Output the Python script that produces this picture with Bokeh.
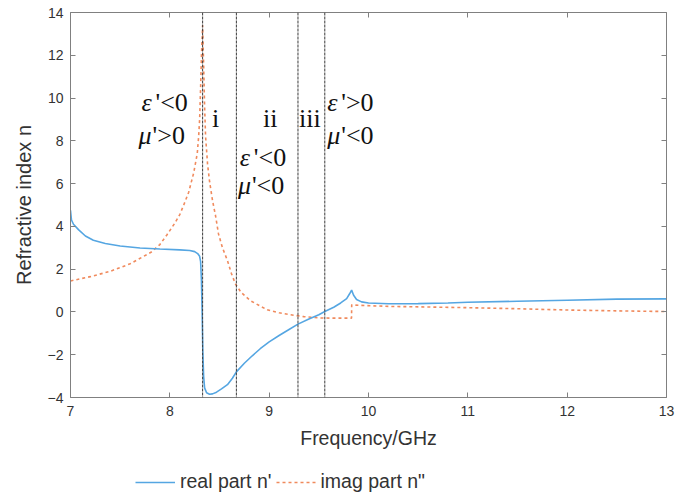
from bokeh.plotting import figure
from bokeh.layouts import column
from bokeh.models import ColumnDataSource, Span, LinearAxis, Legend, LegendItem, FixedTicker, Range1d
from bokeh.core.properties import value
from bokeh.embed import file_html
from bokeh.resources import INLINE

# ---- data ----
freq_real = [7.00, 7.01, 7.03, 7.08, 7.15, 7.23, 7.35, 7.50, 7.70, 7.90, 8.10, 8.20, 8.25, 8.28,
             8.30, 8.31, 8.318, 8.325, 8.332, 8.34, 8.35, 8.37, 8.40, 8.43, 8.47, 8.52, 8.58,
             8.63, 8.67, 8.75, 8.83, 8.91, 9.00, 9.10, 9.20, 9.29, 9.40, 9.50, 9.56, 9.65,
             9.72, 9.78, 9.81, 9.83, 9.85, 9.88, 9.93, 10.00, 10.20, 10.50, 10.80, 11.00,
             11.50, 12.00, 12.50, 13.00]
n_real = [4.75, 4.30, 4.10, 3.85, 3.55, 3.35, 3.20, 3.08, 2.99, 2.94, 2.90, 2.87, 2.82, 2.73,
          2.60, 2.35, 1.50, 0.00, -1.80, -3.00, -3.55, -3.78, -3.85, -3.83, -3.75, -3.60, -3.40,
          -3.10, -2.80, -2.40, -2.05, -1.72, -1.40, -1.10, -0.82, -0.57, -0.33, -0.13, 0.02, 0.22,
          0.42, 0.62, 0.85, 1.02, 0.78, 0.58, 0.47, 0.42, 0.38, 0.39, 0.42, 0.45,
          0.50, 0.55, 0.60, 0.61]

freq_imag = [7.00, 7.20, 7.40, 7.60, 7.81, 7.90, 7.97, 8.05, 8.10, 8.14, 8.19, 8.24, 8.276, 8.29,
             8.30, 8.31, 8.32, 8.33, 8.34, 8.35, 8.36, 8.38, 8.40, 8.43, 8.46, 8.49, 8.53,
             8.58, 8.62, 8.66, 8.72, 8.81, 8.90, 8.98, 9.10, 9.20, 9.35, 9.50, 9.65, 9.829,
             9.831, 9.90, 10.20, 10.60, 11.00, 11.50, 12.00, 12.50, 13.00]
n_imag = [1.45, 1.65, 1.90, 2.25, 2.79, 3.15, 3.60, 4.15, 4.55, 5.00, 5.60, 6.50, 7.40, 8.20,
          9.00, 10.50, 12.20, 13.40, 11.60, 9.60, 8.20, 6.90, 6.10, 5.20, 4.50, 3.65, 3.00,
          2.40, 1.80, 1.31, 0.90, 0.53, 0.30, 0.10, -0.04, -0.12, -0.22, -0.28, -0.29, -0.29,
          0.33, 0.31, 0.26, 0.23, 0.20, 0.15, 0.09, 0.05, 0.02]

boundaries = [8.33, 8.67, 9.29, 9.56]
x_ticks = [7, 8, 9, 10, 11, 12, 13]
y_ticks = [-4, -2, 0, 2, 4, 6, 8, 10, 12, 14]

region_labels = ["i", "ii", "iii"]
region_x = [8.46, 9.01, 9.41]
region_y = [9.04, 9.04, 9.04]

# condition labels: greek symbol + rest
cond_greek = ["ε", "μ", "ε", "μ", "ε", "μ"]
cond_rest = ["'<0", "'>0", "'<0", "'<0", "'>0", "'<0"]
cond_x = [7.715, 7.685, 8.705, 8.685, 9.585, 9.585]
cond_y = [9.785, 8.243, 7.215, 5.907, 9.785, 8.243]

series_names = ["real part n'", 'imag part n"']

# ---- main figure ----
p = figure(width=688, height=454, output_backend="svg", toolbar_location=None,
           x_range=Range1d(7, 13), y_range=Range1d(-4, 14),
           min_border_left=70, min_border_right=22, min_border_top=12, min_border_bottom=57)
p.grid.visible = False
p.outline_line_color = None
p.background_fill_color = "white"
p.border_fill_color = "white"

axis_color = "#808080"
text_color = "#333333"

for ax in [p.xaxis[0], p.yaxis[0]]:
    ax.axis_line_color = axis_color
    ax.major_tick_line_color = axis_color
    ax.major_tick_in = 5
    ax.major_tick_out = 0
    ax.minor_tick_line_color = None
    ax.major_label_text_font = "Liberation Sans"
    ax.major_label_text_font_size = "14px"
    ax.major_label_text_color = text_color
    ax.axis_label_text_font = "Liberation Sans"
    ax.axis_label_text_font_style = "normal"
    ax.axis_label_text_color = text_color

p.xaxis[0].ticker = FixedTicker(ticks=x_ticks)
p.yaxis[0].ticker = FixedTicker(ticks=y_ticks)
p.xaxis[0].axis_label = "Frequency/GHz"
p.xaxis[0].axis_label_text_font_size = "19.5px"
p.xaxis[0].major_label_standoff = 8
p.xaxis[0].axis_label_standoff = 8
p.yaxis[0].axis_label = "Refractive index n"
p.yaxis[0].axis_label_text_font_size = "20px"
p.yaxis[0].major_label_standoff = 7
p.yaxis[0].axis_label_standoff = 10

for loc, tick in [("right", y_ticks), ("above", x_ticks)]:
    ax = LinearAxis(ticker=FixedTicker(ticks=tick), major_label_text_font_size="0px",
                    axis_line_color=axis_color, major_tick_line_color=axis_color,
                    major_tick_in=5, major_tick_out=0, minor_tick_line_color=None,
                    major_label_standoff=0)
    p.add_layout(ax, loc)

for b in boundaries:
    p.add_layout(Span(location=b, dimension="height", line_color="#3a3a3a",
                      line_width=1, line_dash="3 1"))

real_style = dict(line_color="#55A6E2", line_width=1.6)
imag_style = dict(line_color="#F08A5D", line_width=1.6, line_dash="3 3")

src_r = ColumnDataSource(dict(x=freq_real, y=n_real))
src_i = ColumnDataSource(dict(x=freq_imag, y=n_imag))
p.line("x", "y", source=src_i, **imag_style)
p.line("x", "y", source=src_r, **real_style)

serif = value("Liberation Serif")
p.text(x=region_x, y=region_y, text=region_labels, text_font=serif, text_font_size="26px",
       text_align="center", text_baseline="middle", text_color="#111111")
p.text(x=cond_x, y=cond_y, text=cond_greek, text_font=serif, text_font_size="26px",
       text_font_style="italic", text_align="left", text_baseline="middle", text_color="#111111")
p.text(x=cond_x, y=cond_y, text=cond_rest, text_font=serif, text_font_size="26px",
       text_align="left", text_baseline="middle", text_color="#111111", x_offset=14)

# ---- legend strip (same series, drawn outside its own visible range) ----
lg = figure(width=688, height=40, output_backend="svg", toolbar_location=None,
            x_range=Range1d(0, 1), y_range=Range1d(100, 101),
            min_border_left=0, min_border_right=0, min_border_top=0, min_border_bottom=0)
lg.axis.visible = False
lg.grid.visible = False
lg.outline_line_color = None
lg_r = lg.line("x", "y", source=src_r, **real_style)
lg_i = lg.line("x", "y", source=src_i, **imag_style)
legend = Legend(items=[LegendItem(label=series_names[0], renderers=[lg_r]),
                       LegendItem(label=series_names[1], renderers=[lg_i])],
                orientation="horizontal", location=(65, 1),
                border_line_color=None, background_fill_alpha=0,
                label_text_font="Liberation Sans", label_text_font_size="19.5px",
                label_text_color=text_color, glyph_width=40, label_standoff=5,
                spacing=4, padding=0, margin=0)
lg.add_layout(legend, "center")

layout = column(p, lg, spacing=0)
open("out.html", "w").write(file_html(layout, INLINE))
